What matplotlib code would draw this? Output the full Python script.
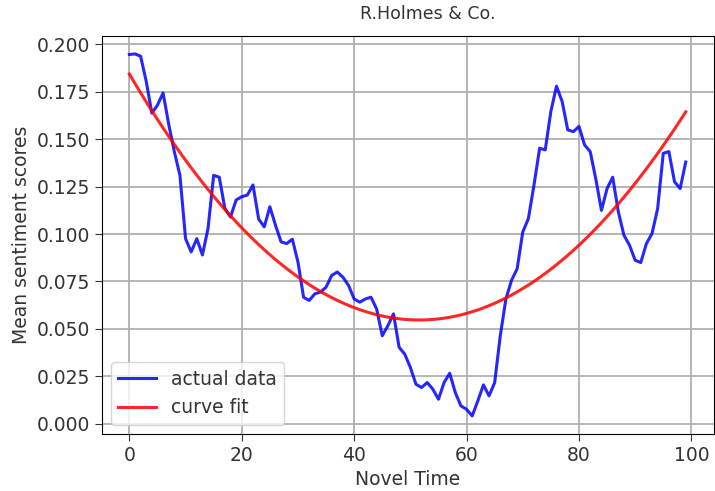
import numpy as np
import matplotlib
matplotlib.use("Agg")
import matplotlib.pyplot as plt

# --- sentiment data (x = 0..99) ---
novel_time = list(range(100))
mean_scores = [
    0.1947, 0.1950, 0.1938, 0.1806, 0.1638, 0.1680, 0.1744, 0.1580, 0.1435, 0.1310,
    0.0976, 0.0906, 0.0976, 0.0890, 0.1030, 0.1310, 0.1300, 0.1135, 0.1090, 0.1180,
    0.1197, 0.1206, 0.1259, 0.1080, 0.1038, 0.1144, 0.1047, 0.0959, 0.0950, 0.0973,
    0.0853, 0.0667, 0.0650, 0.0685, 0.0694, 0.0720, 0.0782, 0.0800, 0.0773, 0.0729,
    0.0658, 0.0641, 0.0658, 0.0667, 0.0605, 0.0464, 0.0517, 0.0579, 0.0403, 0.0367,
    0.0297, 0.0208, 0.0191, 0.0217, 0.0182, 0.0129, 0.0217, 0.0266, 0.0164, 0.0094,
    0.0076, 0.0041, 0.0120, 0.0205, 0.0147, 0.0217, 0.0464, 0.0658, 0.0756, 0.0817,
    0.1011, 0.1082, 0.1259, 0.1453, 0.1444, 0.1647, 0.1780, 0.1700, 0.1550, 0.1540,
    0.1568, 0.1470, 0.1435, 0.1290, 0.1125, 0.1240, 0.1300, 0.1118, 0.0994, 0.0941,
    0.0862, 0.0850, 0.0950, 0.1003, 0.1135, 0.1426, 0.1435, 0.1276, 0.1240, 0.1380,
]

title = "R.Holmes & Co."

x = np.array(novel_time)
y = np.array(mean_scores)

# quadratic curve fit
coef = np.polyfit(x, y, 2)
fit = np.polyval(coef, x)

plt.rcParams["text.color"] = "#333333"
plt.rcParams["axes.labelcolor"] = "#333333"
plt.rcParams["xtick.color"] = "#333333"
plt.rcParams["ytick.color"] = "#333333"

fig = plt.figure(figsize=(7.15, 4.91), dpi=100)
ax = fig.add_axes([0.142, 0.116, 0.856, 0.811])
ax.plot(x, y, color="blue", lw=2.2, alpha=0.85, label="actual data")
ax.plot(x, fit, color="red", lw=2.2, alpha=0.85, label="curve fit")
ax.grid(True, color="#b0b0b0", lw=1.3)
ax.set_title(title, fontsize=12.5, x=0.533, pad=12)
ax.set_xlabel("Novel Time", fontsize=13.5)
ax.set_ylabel("Mean sentiment scores", fontsize=13.5)
ax.tick_params(labelsize=13.5, length=5)
ax.legend(loc="lower left", fontsize=13.5)

fig.savefig("out.png", dpi=100)
